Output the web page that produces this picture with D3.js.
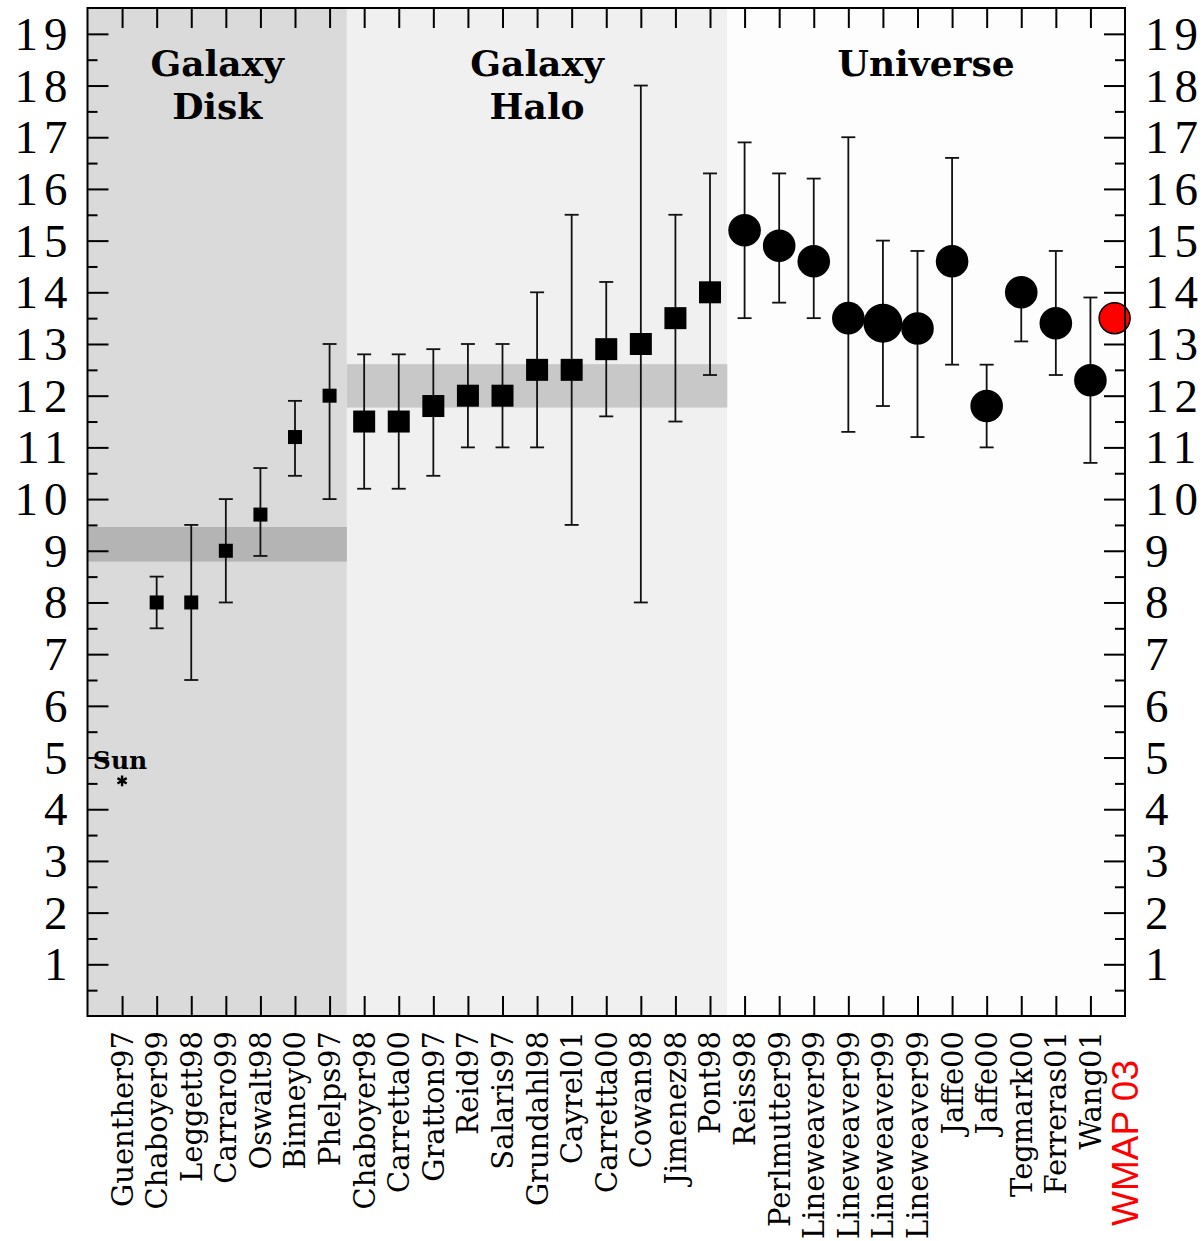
<!DOCTYPE html>
<html>
<head>
<meta charset="utf-8">
<script src="https://cdn.jsdelivr.net/npm/d3@7"></script>
<style>
    body { margin: 0; background: #fff; }
    svg { display: block; }
</style>
</head>
<body>
<div id="chart"></div>
<script>
// age estimates in Gyr, one entry per study
var labels = ["Guenther97", "Chaboyer99", "Leggett98", "Carraro99", "Oswalt98", "Binney00", "Phelps97",
    "Chaboyer98", "Carretta00", "Gratton97", "Reid97", "Salaris97", "Grundahl98", "Cayrel01", "Carretta00",
    "Cowan98", "Jimenez98", "Pont98",
    "Reiss98", "Perlmutter99", "Lineweaver99", "Lineweaver99", "Lineweaver99", "Lineweaver99",
    "Jaffe00", "Jaffe00", "Tegmark00", "Ferreras01", "Wang01", "WMAP 03"];

var kinds = ["sun", "disk", "disk", "disk", "disk", "disk", "disk",
    "halo", "halo", "halo", "halo", "halo", "halo", "halo", "halo", "halo", "halo", "halo",
    "universe", "universe", "universe", "universe", "universe", "universe",
    "universe", "universe", "universe", "universe", "universe", "wmap"];

var ages = [4.55, 8.0, 8.0, 9.0, 9.7, 11.2, 12.0,
    11.5, 11.5, 11.8, 12.0, 12.0, 12.5, 12.5, 12.9, 13.0, 13.5, 14.0,
    15.2, 14.9, 14.6, 13.5, 13.4, 13.3, 14.6, 11.8, 14.0, 13.4, 12.3, 13.5];

var ageLow = [null, 7.5, 6.5, 8.0, 8.9, 10.45, 10.0,
    10.2, 10.2, 10.45, 11.0, 11.0, 11.0, 9.5, 11.6, 8.0, 11.5, 12.4,
    13.5, 13.8, 13.5, 11.3, 11.8, 11.2, 12.6, 11.0, 13.05, 12.4, 10.7, null];

var ageHigh = [null, 8.5, 9.5, 10.0, 10.6, 11.9, 13.0,
    12.8, 12.8, 12.9, 13.0, 13.0, 14.0, 15.5, 14.2, 18.0, 15.5, 16.3,
    16.9, 16.3, 16.2, 17.0, 15.0, 14.8, 16.6, 12.6, 14.2, 14.8, 13.9, null];

var regions = ["Galaxy Disk", "Galaxy Halo", "Universe"];
var regionEdges = [-1, 6.5, 17.5, 29];
var bands = [[8.79, 9.46], [11.77, 12.61]];
var yTicks = d3.range(1, 20);

var W = 1203, H = 1241;
var x = d3.scaleLinear().domain([-1, 29]).range([87.5, 1125]);
var y = d3.scaleLinear().domain([0, 19.5]).range([1016, 8]);

var svg = d3.select("#chart").append("svg")
    .attr("width", W)
    .attr("height", H);

var regionFill = ["#dadada", "#f0f0f0", "#fdfdfd"];
var bandFill = ["#b4b4b4", "#c8c8c8"];

svg.selectAll("rect.region")
    .data(regions)
    .enter().append("rect")
    .attr("class", "region")
    .attr("x", function(d, i) { return x(regionEdges[i]); })
    .attr("width", function(d, i) { return x(regionEdges[i + 1]) - x(regionEdges[i]); })
    .attr("y", y(19.5))
    .attr("height", y(0) - y(19.5))
    .attr("fill", function(d, i) { return regionFill[i]; });

svg.selectAll("rect.band")
    .data(bands)
    .enter().append("rect")
    .attr("class", "band")
    .attr("x", function(d, i) { return x(regionEdges[i]); })
    .attr("width", function(d, i) { return x(regionEdges[i + 1]) - x(regionEdges[i]); })
    .attr("y", function(d) { return y(d[1]); })
    .attr("height", function(d) { return y(d[0]) - y(d[1]); })
    .attr("fill", function(d, i) { return bandFill[i]; });

// region titles
svg.selectAll("text.region")
    .data(regions)
    .enter().append("text")
    .attr("class", "region")
    .attr("font-family", "DejaVu Serif")
    .attr("font-weight", "bold")
    .attr("font-size", 36)
    .attr("text-anchor", "middle")
    .each(function(d, i) {
        var cx = (x(regionEdges[i]) + x(regionEdges[i + 1])) / 2;
        var lines = d === "Universe" ? [d] : d.split(" ");
        d3.select(this).selectAll("tspan")
            .data(lines)
            .enter().append("tspan")
            .attr("x", cx)
            .attr("y", function(l, j) { return 76 + j * 43; })
            .text(function(l) { return l; });
    });

// inward ticks on all four sides
var xTickVals = d3.range(0, 29);
var axes = [
    {gen: d3.axisBottom(x).tickValues(xTickVals).tickSize(-20), at: "translate(0," + y(0) + ")"},
    {gen: d3.axisTop(x).tickValues(xTickVals).tickSize(-20), at: "translate(0," + y(19.5) + ")"},
    {gen: d3.axisLeft(y).tickValues(yTicks).tickSize(-21), at: "translate(" + x(-1) + ",0)"},
    {gen: d3.axisLeft(y).tickValues(d3.range(0.5, 19.5, 1)).tickSize(-10), at: "translate(" + x(-1) + ",0)"},
    {gen: d3.axisRight(y).tickValues(yTicks).tickSize(-21), at: "translate(" + x(29) + ",0)"},
    {gen: d3.axisRight(y).tickValues(d3.range(0.5, 19.5, 1)).tickSize(-10), at: "translate(" + x(29) + ",0)"}
];
axes.forEach(function(a) {
    var g = svg.append("g")
        .attr("transform", a.at)
        .call(a.gen.tickFormat(""));
    g.select(".domain").remove();
    g.selectAll(".tick line").attr("stroke", "#000").attr("stroke-width", 2);
});

// error bars
var withErr = d3.range(labels.length).filter(function(i) { return ageLow[i] !== null; });
var capW = 7;

var errG = svg.append("g")
    .attr("stroke", "#111")
    .attr("stroke-width", 1.8);

errG.selectAll("line.err")
    .data(withErr)
    .enter().append("line")
    .attr("x1", function(i) { return x(i); })
    .attr("x2", function(i) { return x(i); })
    .attr("y1", function(i) { return y(ageLow[i]); })
    .attr("y2", function(i) { return y(ageHigh[i]); });

errG.selectAll("line.capLo")
    .data(withErr)
    .enter().append("line")
    .attr("x1", function(i) { return x(i) - capW; })
    .attr("x2", function(i) { return x(i) + capW; })
    .attr("y1", function(i) { return y(ageLow[i]); })
    .attr("y2", function(i) { return y(ageLow[i]); });

errG.selectAll("line.capHi")
    .data(withErr)
    .enter().append("line")
    .attr("x1", function(i) { return x(i) - capW; })
    .attr("x2", function(i) { return x(i) + capW; })
    .attr("y1", function(i) { return y(ageHigh[i]); })
    .attr("y2", function(i) { return y(ageHigh[i]); });

// markers
var idx = d3.range(labels.length);

svg.selectAll("rect.sq")
    .data(idx.filter(function(i) { return kinds[i] === "disk" || kinds[i] === "halo"; }))
    .enter().append("rect")
    .attr("class", "sq")
    .attr("x", function(i) { var s = kinds[i] === "disk" ? 14 : 22; return x(i) - s / 2; })
    .attr("y", function(i) { var s = kinds[i] === "disk" ? 14 : 22; return y(ages[i]) - s / 2; })
    .attr("width", function(i) { return kinds[i] === "disk" ? 14 : 22; })
    .attr("height", function(i) { return kinds[i] === "disk" ? 14 : 22; })
    .attr("fill", "#000");

svg.selectAll("circle.dot")
    .data(idx.filter(function(i) { return kinds[i] === "universe"; }))
    .enter().append("circle")
    .attr("class", "dot")
    .attr("cx", function(i) { return x(i); })
    .attr("cy", function(i) { return y(ages[i]); })
    .attr("r", function(i) { return i === 22 ? 19.5 : 16.3; })
    .attr("fill", "#000");

var wmap = idx.filter(function(i) { return kinds[i] === "wmap"; });
svg.selectAll("circle.wmap")
    .data(wmap)
    .enter().append("circle")
    .attr("class", "wmap")
    .attr("cx", function(i) { return x(i - 0.3); })
    .attr("cy", function(i) { return y(ages[i]); })
    .attr("r", 15.5)
    .attr("fill", "#ff0000")
    .attr("stroke", "#000")
    .attr("stroke-width", 1.5);

// the Sun
var sun = idx.filter(function(i) { return kinds[i] === "sun"; });
svg.selectAll("path.sun")
    .data(sun)
    .enter().append("path")
    .attr("class", "sun")
    .attr("transform", function(i) { return "translate(" + x(i) + "," + y(ages[i]) + ")"; })
    .attr("d", d3.symbol().type(d3.symbolAsterisk).size(80))
    .attr("stroke", "#000")
    .attr("stroke-width", 2.4)
    .attr("fill", "none");

svg.selectAll("text.sun")
    .data(sun)
    .enter().append("text")
    .attr("class", "sun")
    .attr("x", function(i) { return x(i) - 2; })
    .attr("y", function(i) { return y(ages[i]) - 12; })
    .attr("text-anchor", "middle")
    .attr("font-family", "DejaVu Serif")
    .attr("font-weight", "bold")
    .attr("font-size", 25)
    .text("Sun");

// frame
svg.append("rect")
    .attr("x", x(-1))
    .attr("y", y(19.5))
    .attr("width", x(29) - x(-1))
    .attr("height", y(0) - y(19.5))
    .attr("fill", "none")
    .attr("stroke", "#000")
    .attr("stroke-width", 2);

// y labels, both sides
var tickText = function(side) {
    svg.selectAll("text.y" + side)
        .data(yTicks)
        .enter().append("text")
        .attr("class", "y" + side)
        .attr("x", side === "L" ? x(-1) - 14 : x(29) + 20)
        .attr("y", function(d) { return y(d); })
        .attr("dy", "0.34em")
        .attr("text-anchor", side === "L" ? "end" : "start")
        .attr("font-family", "Liberation Serif")
        .attr("font-size", 47)
        .attr("letter-spacing", "6px")
        .text(function(d) { return d; });
};
tickText("L");
tickText("R");

// category labels
svg.selectAll("text.cat")
    .data(idx)
    .enter().append("text")
    .attr("class", "cat")
    .attr("transform", function(i) {
        var top = kinds[i] === "wmap" ? 1060 : 1031;
        return "translate(" + x(i) + "," + top + ") rotate(-90)";
    })
    .attr("dy", "0.36em")
    .attr("text-anchor", "end")
    .attr("font-family", function(i) { return kinds[i] === "wmap" ? "Liberation Sans" : "DejaVu Serif"; })
    .attr("font-size", function(i) { return kinds[i] === "wmap" ? 37 : 29; })
    .attr("fill", function(i) { return kinds[i] === "wmap" ? "#ff0000" : "#000"; })
    .text(function(i) { return labels[i]; });
</script>
</body>
</html>
